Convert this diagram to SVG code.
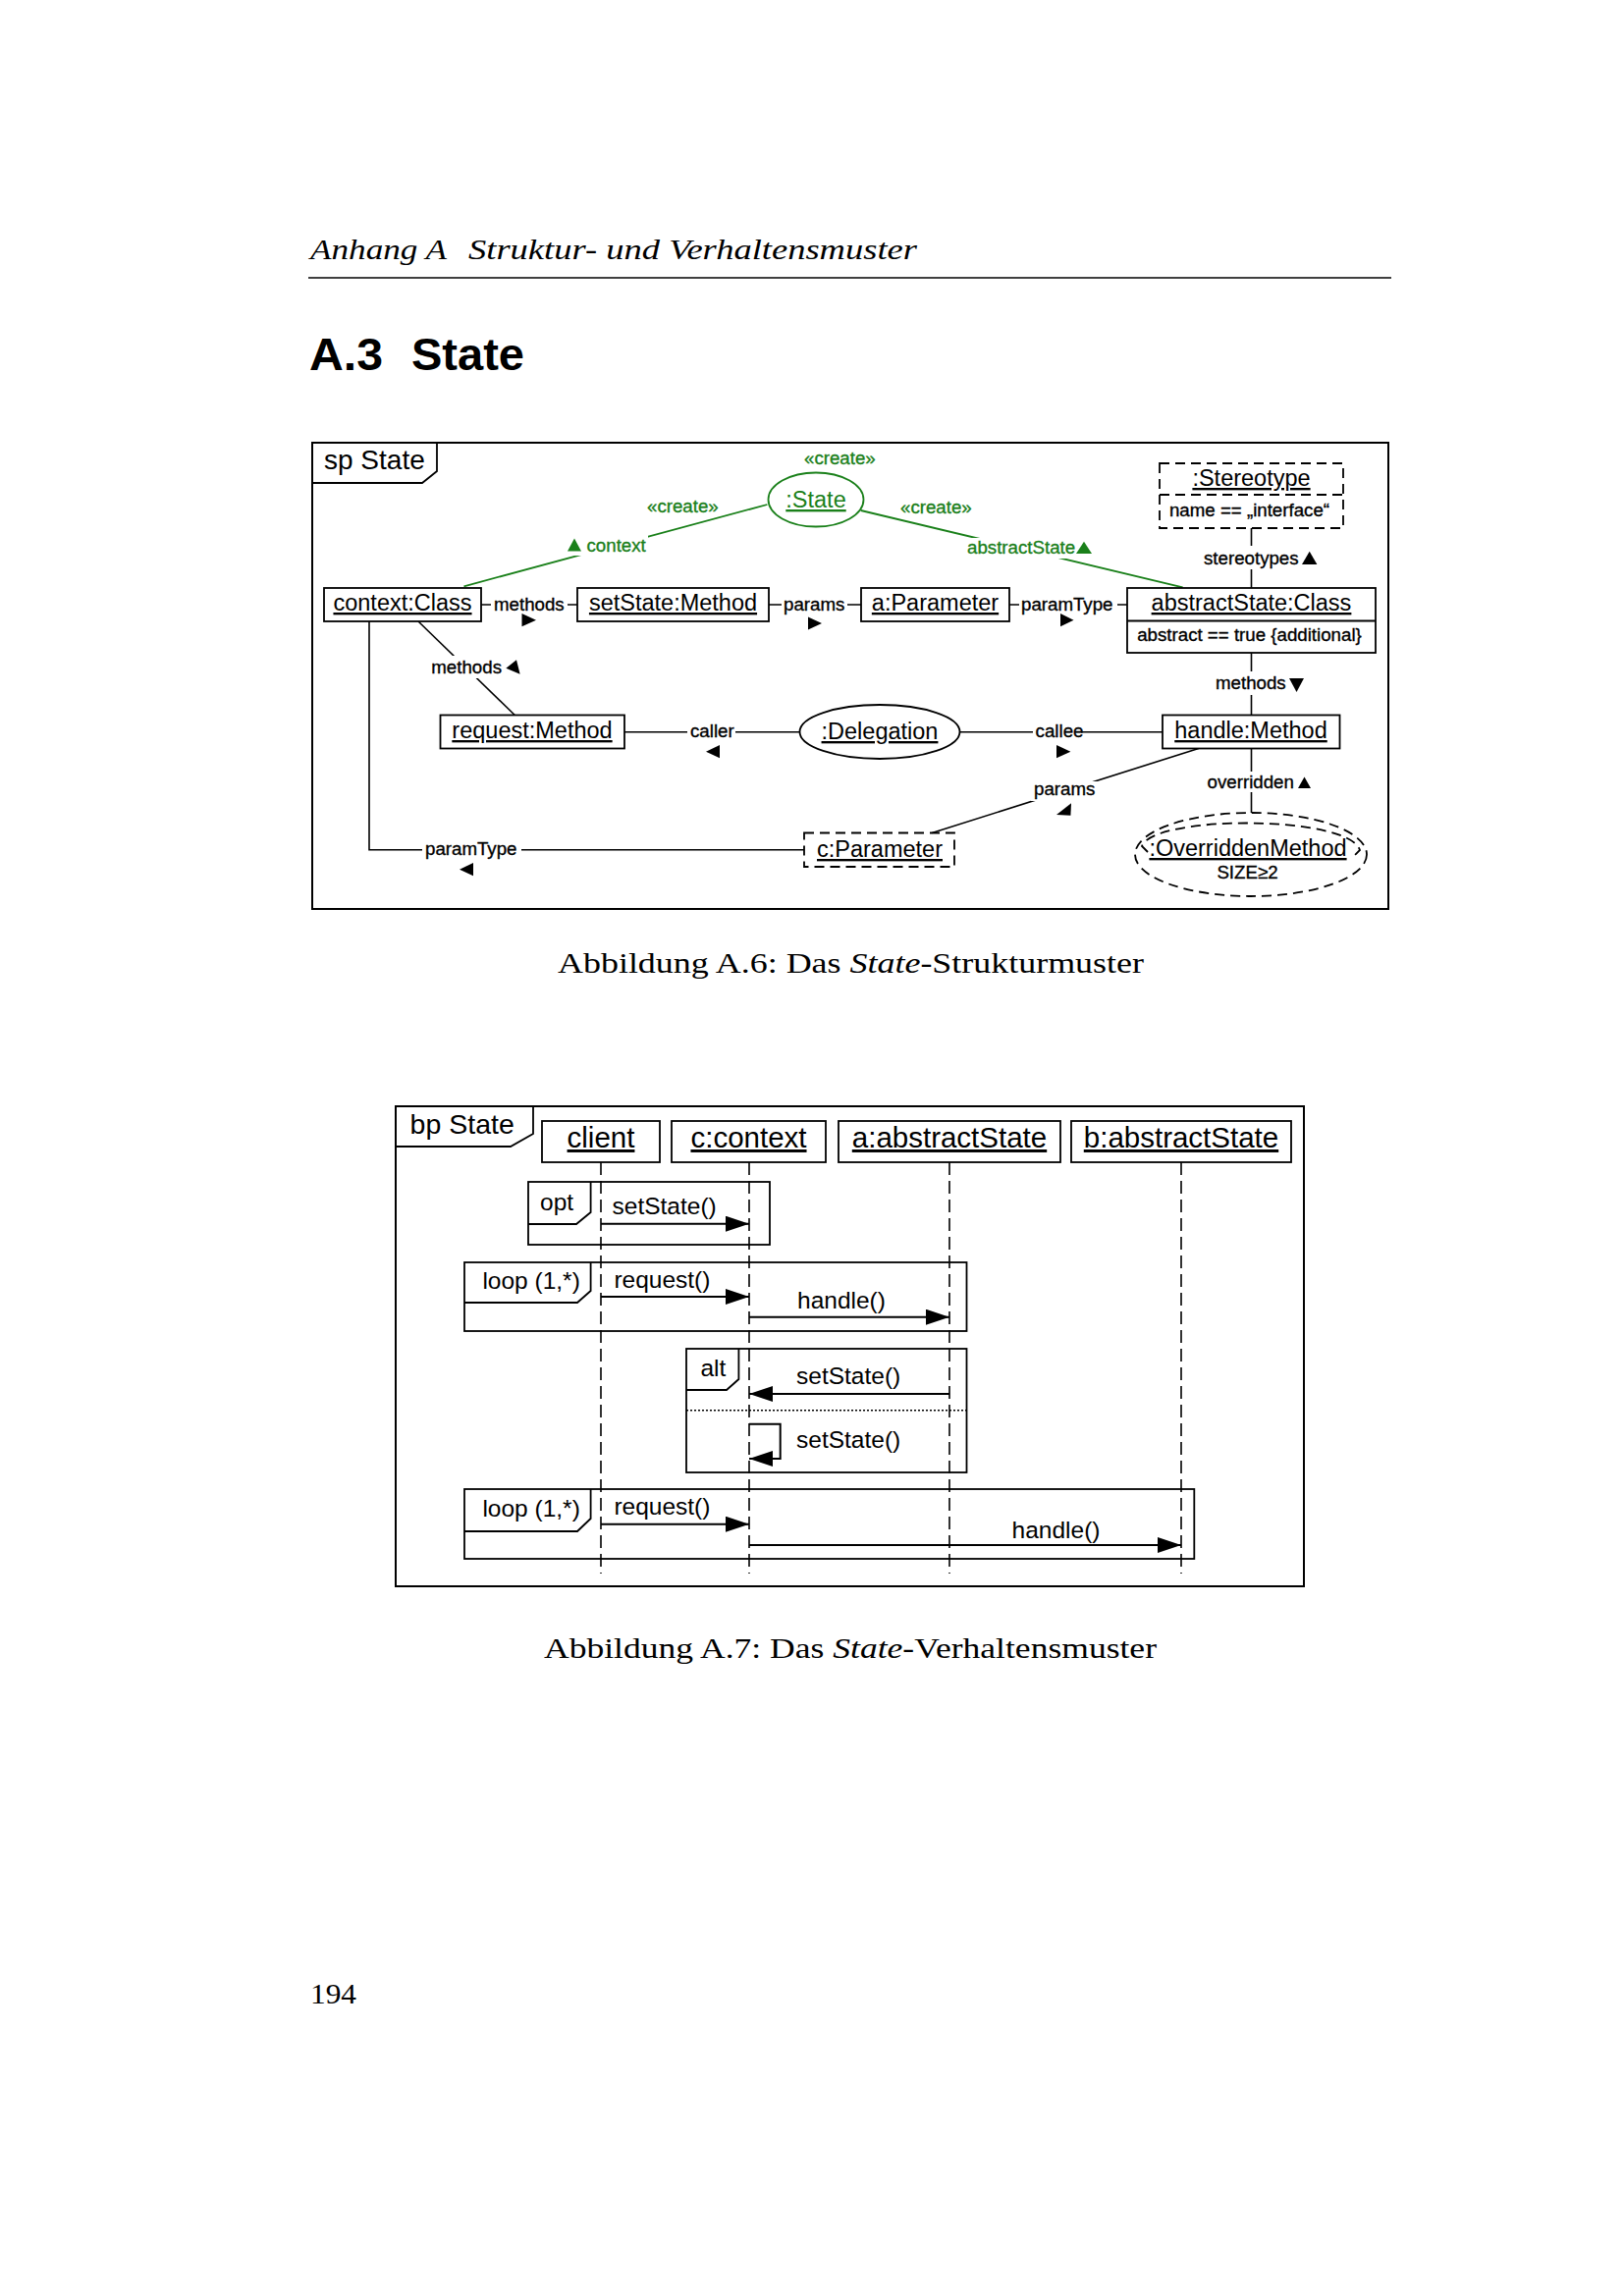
<svg xmlns="http://www.w3.org/2000/svg" width="1654" height="2339" viewBox="0 0 1654 2339">
<defs>
<style>
.bg{fill:#fff}
.box{fill:#fff;stroke:#000;stroke-width:1.8}
.dbox{fill:none;stroke:#000;stroke-width:1.8;stroke-dasharray:10 6}
.ln{fill:none;stroke:#000;stroke-width:1.6}
.gln{fill:none;stroke:#1a801a;stroke-width:1.8}
.sans{font-family:"Liberation Sans",Arial,sans-serif}
.serif{font-family:"Liberation Serif","Times New Roman",serif}
.nm{font-family:"Liberation Sans",Arial,sans-serif;font-size:23.5px;text-decoration:underline;text-anchor:middle}
.lb{font-family:"Liberation Sans",Arial,sans-serif;font-size:18.7px;stroke:#000;stroke-width:0.35px}
.g{fill:#1a801a;stroke:#1a801a}
.msg{font-family:"Liberation Sans",Arial,sans-serif;font-size:24.5px}
.head{font-family:"Liberation Sans",Arial,sans-serif;font-size:29.5px;text-decoration:underline;text-anchor:middle}
.life{fill:none;stroke:#000;stroke-width:1.6;stroke-dasharray:13 6}
.mline{fill:none;stroke:#000;stroke-width:2}
.frag{fill:none;stroke:#000;stroke-width:1.8}
</style>
<marker id="arr" markerUnits="userSpaceOnUse" viewBox="0 0 24 16" refX="24" refY="8" markerWidth="24" markerHeight="16" orient="auto">
<path d="M0,0 L24,8 L0,16 z" fill="#000"/>
</marker>
</defs>
<rect x="0" y="0" width="1654" height="2339" fill="#fff"/>

<!-- page header -->
<g id="page-header">
<text class="serif" x="316" y="264" font-size="30" font-style="italic" textLength="139" lengthAdjust="spacingAndGlyphs">Anhang A</text>
<text class="serif" x="477" y="264" font-size="30" font-style="italic" textLength="457" lengthAdjust="spacingAndGlyphs">Struktur- und Verhaltensmuster</text>
<line x1="314" y1="283" x2="1417" y2="283" stroke="#000" stroke-width="1.3"/>
<text class="sans" x="315" y="377" font-size="46" font-weight="bold" textLength="75" lengthAdjust="spacingAndGlyphs">A.3</text>
<text class="sans" x="419" y="377" font-size="46" font-weight="bold" textLength="115" lengthAdjust="spacingAndGlyphs">State</text>
</g>

<!-- ===== Figure A.6 ===== -->
<g id="sp-frame">
<rect x="318" y="451" width="1096" height="475" fill="none" stroke="#000" stroke-width="2"/>
<path d="M318,492 H430 L445,480 V451" fill="none" stroke="#000" stroke-width="1.8"/>
<text class="sans" x="330" y="478" font-size="28">sp State</text>
</g>

<g id="connectors-structure">
<!-- context -> setState : methods -->
<line class="ln" x1="490" y1="616" x2="588" y2="616"/>
<rect class="bg" x="500" y="606" width="78" height="20"/>
<text class="lb" x="503" y="622">methods</text>
<polygon points="531.5,625 546,631.7 531.5,638.3"/>
<!-- setState -> a:Parameter : params -->
<line class="ln" x1="783" y1="616" x2="877" y2="616"/>
<rect class="bg" x="796" y="606" width="67" height="20"/>
<text class="lb" x="798" y="622">params</text>
<polygon points="823,628.5 837,635 823,641.5"/>
<!-- a:Parameter -> abstractState : paramType -->
<line class="ln" x1="1028" y1="616" x2="1148" y2="616"/>
<rect class="bg" x="1038" y="606" width="100" height="20"/>
<text class="lb" x="1040" y="622">paramType</text>
<polygon points="1080,625 1093.5,631.7 1080,638.3"/>
<!-- green context link -->
<line class="gln" x1="472.5" y1="597.3" x2="781.4" y2="514"/>
<rect class="bg" x="574" y="545" width="86" height="21"/>
<polygon fill="#1a801a" points="578,561.5 585,548.5 592,561.5"/>
<text class="lb g" x="597.5" y="561.5">context</text>
<text class="lb g" x="659" y="522">«create»</text>
<!-- green abstractState link -->
<line class="gln" x1="876.7" y1="520" x2="1204.6" y2="598.3"/>
<rect class="bg" x="982" y="548" width="132" height="21"/>
<text class="lb g" x="985" y="564">abstractState</text>
<polygon fill="#1a801a" points="1096,564 1104,551.7 1112,564"/>
<text class="lb g" x="917" y="523">«create»</text>
<!-- stereotypes -->
<line class="ln" x1="1274.5" y1="538" x2="1274.5" y2="599"/>
<rect class="bg" x="1223" y="556" width="121" height="24"/>
<text class="lb" x="1226" y="575">stereotypes</text>
<polygon points="1326,575 1333.7,561.7 1341.4,575"/>
<!-- methods (abstractState -> handle) -->
<line class="ln" x1="1274.5" y1="665" x2="1274.5" y2="728.5"/>
<rect class="bg" x="1235" y="684" width="96" height="24"/>
<text class="lb" x="1238" y="701.5">methods</text>
<polygon points="1313,691 1328,691 1320.5,705"/>
<!-- overridden -->
<line class="ln" x1="1274.5" y1="762.5" x2="1274.5" y2="828"/>
<rect class="bg" x="1227" y="786" width="110" height="21"/>
<text class="lb" x="1229.6" y="802.7">overridden</text>
<polygon points="1322,803 1328.5,791.5 1335,803"/>
<!-- methods (context -> request) -->
<line class="ln" x1="426" y1="633" x2="524.3" y2="728.5"/>
<rect class="bg" x="436" y="668" width="96" height="23"/>
<text class="lb" x="439.3" y="686">methods</text>
<polygon points="515.4,680.7 526,672.3 529.6,686.7"/>
<!-- caller -->
<line class="ln" x1="636" y1="745.7" x2="814.5" y2="745.7"/>
<rect class="bg" x="700" y="736" width="49" height="19"/>
<text class="lb" x="703" y="751">caller</text>
<polygon points="719,765.7 733,759 733,772.3"/>
<!-- callee -->
<line class="ln" x1="977.5" y1="745.7" x2="1184" y2="745.7"/>
<rect class="bg" x="1052" y="736" width="49" height="19"/>
<text class="lb" x="1054.6" y="751">callee</text>
<polygon points="1076,759 1090.4,765.7 1076,772.3"/>
<!-- params (handle -> c:Parameter) -->
<line class="ln" x1="1220.7" y1="762.5" x2="949.3" y2="848.5"/>
<rect class="bg" x="1050" y="796" width="69" height="20"/>
<text class="lb" x="1053" y="810">params</text>
<polygon points="1091,818.3 1076,830 1090.4,830.7"/>
<!-- paramType (context -> c:Parameter) -->
<polyline class="ln" points="376,633 376,865.7 819,865.7"/>
<rect class="bg" x="430" y="856" width="101" height="19"/>
<text class="lb" x="433" y="871">paramType</text>
<polygon points="468,885.7 482,879 482,892.3"/>
</g>

<g id="node-contextClass">
<rect class="box" x="330" y="599" width="160" height="34"/>
<text class="nm" x="410" y="622">context:Class</text>
</g>
<g id="node-setStateMethod">
<rect class="box" x="588" y="599" width="195" height="34"/>
<text class="nm" x="685.5" y="622">setState:Method</text>
</g>
<g id="node-aParameter">
<rect class="box" x="877" y="599" width="151" height="34"/>
<text class="nm" x="952.5" y="622">a:Parameter</text>
</g>
<g id="node-abstractStateClass">
<rect class="box" x="1148" y="599" width="253" height="66"/>
<line x1="1148" y1="632.5" x2="1401" y2="632.5" stroke="#000" stroke-width="1.8"/>
<text class="nm" x="1274.5" y="622">abstractState:Class</text>
<text class="lb" x="1272.5" y="653" text-anchor="middle">abstract == true {additional}</text>
</g>
<g id="node-stereotype">
<rect class="dbox" x="1181" y="472" width="187" height="66"/>
<line x1="1181" y1="504" x2="1368" y2="504" stroke="#000" stroke-width="1.8" stroke-dasharray="10 6"/>
<text class="nm" x="1274.5" y="495">:Stereotype</text>
<text class="lb" x="1272.5" y="526" text-anchor="middle">name == „interface“</text>
</g>
<g id="node-state">
<ellipse cx="831" cy="509" rx="48.5" ry="27.5" fill="#fff" stroke="#1a801a" stroke-width="1.8"/>
<text class="nm" fill="#1a801a" x="831" y="517">:State</text>
<text class="lb g" x="819" y="473">«create»</text>
</g>
<g id="node-requestMethod">
<rect class="box" x="448.5" y="728.5" width="187.5" height="34"/>
<text class="nm" x="542" y="752">request:Method</text>
</g>
<g id="node-delegation">
<ellipse cx="896" cy="745.5" rx="81.5" ry="27.5" fill="#fff" stroke="#000" stroke-width="1.8"/>
<text class="nm" x="896" y="753">:Delegation</text>
</g>
<g id="node-handleMethod">
<rect class="box" x="1184" y="728.5" width="180.5" height="34"/>
<text class="nm" x="1274" y="752">handle:Method</text>
</g>
<g id="node-cParameter">
<rect class="dbox" x="819" y="848.5" width="153" height="34.5"/>
<text class="nm" x="896" y="873">c:Parameter</text>
</g>
<g id="node-overriddenMethod">
<ellipse cx="1274" cy="870.5" rx="118" ry="42.5" fill="none" stroke="#000" stroke-width="1.8" stroke-dasharray="10 6"/>
<path d="M1169,868 L1163,862 C1175,830 1373,830 1385,866 L1380,871" fill="none" stroke="#000" stroke-width="1.8" stroke-dasharray="10 6"/>
<text class="nm" x="1271" y="872">:OverriddenMethod</text>
<text class="lb" x="1270.5" y="895" text-anchor="middle">SIZE≥2</text>
</g>

<text id="caption-a6" class="serif" x="568" y="991" font-size="30" textLength="597" lengthAdjust="spacingAndGlyphs">Abbildung A.6: Das <tspan font-style="italic">State</tspan>-Strukturmuster</text>

<!-- ===== Figure A.7 ===== -->
<g id="bp-frame">
<rect x="403" y="1127" width="925" height="489" fill="none" stroke="#000" stroke-width="2"/>
<path d="M403,1168 H520 L543,1155 V1127" fill="none" stroke="#000" stroke-width="1.8"/>
<text class="sans" x="417.6" y="1155" font-size="28.5">bp State</text>
</g>

<g id="lifeline-client">
<rect class="box" x="552" y="1142" width="120" height="42"/>
<text class="head" x="612" y="1169">client</text>
<line class="life" x1="612" y1="1184" x2="612" y2="1603"/>
</g>
<g id="lifeline-context">
<rect class="box" x="684" y="1142" width="157" height="42"/>
<text class="head" x="762.5" y="1169">c:context</text>
<line class="life" x1="763" y1="1184" x2="763" y2="1603"/>
</g>
<g id="lifeline-a">
<rect class="box" x="854" y="1142" width="226" height="42"/>
<text class="head" x="967" y="1169">a:abstractState</text>
<line class="life" x1="967" y1="1184" x2="967" y2="1603"/>
</g>
<g id="lifeline-b">
<rect class="box" x="1091" y="1142" width="224" height="42"/>
<text class="head" x="1203" y="1169">b:abstractState</text>
<line class="life" x1="1203" y1="1184" x2="1203" y2="1603"/>
</g>

<g id="frag-opt">
<rect class="frag" x="538" y="1204" width="246" height="64"/>
<path class="frag" d="M538,1247 H587 L601.6,1235 V1204"/>
<text class="msg" x="550" y="1233">opt</text>
</g>
<g id="frag-loop1">
<rect class="frag" x="473" y="1286" width="511.5" height="70"/>
<path class="frag" d="M473,1327 H588 L601.6,1315 V1286"/>
<text class="msg" x="491.4" y="1313">loop (1,*)</text>
</g>
<g id="frag-alt">
<rect class="frag" x="699" y="1374" width="285.5" height="126" stroke-width="1.6"/>
<path class="frag" d="M699,1416 H740 L752.4,1405 V1374"/>
<text class="msg" x="713.4" y="1401.7">alt</text>
<line x1="699" y1="1436.7" x2="984.5" y2="1436.7" stroke="#000" stroke-width="1.5" stroke-dasharray="2 2"/>
</g>
<g id="frag-loop2">
<rect class="frag" x="473" y="1517" width="743.3" height="71"/>
<path class="frag" d="M473,1560 H588 L601.6,1547 V1517"/>
<text class="msg" x="491.4" y="1545">loop (1,*)</text>
</g>

<g id="messages">
<line class="mline" x1="612" y1="1246.7" x2="763" y2="1246.7" marker-end="url(#arr)"/>
<text class="msg" x="623.5" y="1237">setState()</text>
<line class="mline" x1="612" y1="1321" x2="763" y2="1321" marker-end="url(#arr)"/>
<text class="msg" x="625.4" y="1311.7">request()</text>
<line class="mline" x1="763" y1="1341.7" x2="967" y2="1341.7" marker-end="url(#arr)"/>
<text class="msg" x="812" y="1333">handle()</text>
<line class="mline" x1="967" y1="1420" x2="763" y2="1420" stroke-width="1.4" marker-end="url(#arr)"/>
<text class="msg" x="811" y="1410">setState()</text>
<polyline class="mline" points="763,1450.7 794.7,1450.7 794.7,1486 763,1486" marker-end="url(#arr)"/>
<text class="msg" x="811" y="1475">setState()</text>
<line class="mline" x1="612" y1="1552.7" x2="763" y2="1552.7" marker-end="url(#arr)"/>
<text class="msg" x="625.4" y="1543">request()</text>
<line class="mline" x1="763" y1="1574" x2="1203" y2="1574" marker-end="url(#arr)"/>
<text class="msg" x="1030.6" y="1566.7">handle()</text>
</g>

<text id="caption-a7" class="serif" x="554" y="1689" font-size="30" textLength="624" lengthAdjust="spacingAndGlyphs">Abbildung A.7: Das <tspan font-style="italic">State</tspan>-Verhaltensmuster</text>

<text id="page-number" class="serif" x="316" y="2041" font-size="30" textLength="47" lengthAdjust="spacingAndGlyphs">194</text>
</svg>
